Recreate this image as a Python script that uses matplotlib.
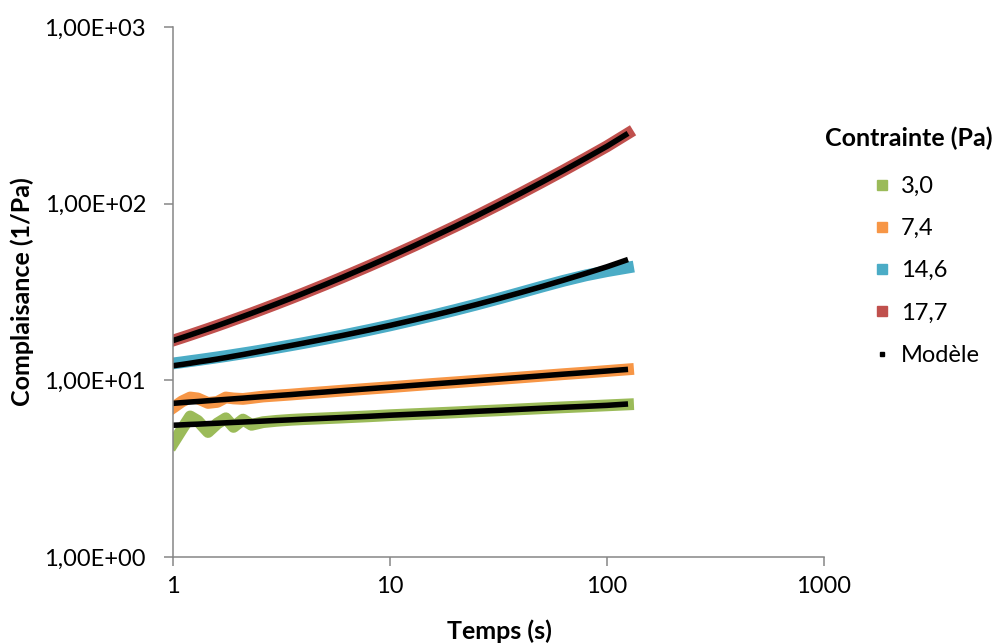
import matplotlib
matplotlib.use('Agg')
import matplotlib.pyplot as plt
from matplotlib.lines import Line2D

plt.rcParams['font.family'] = ['Lato', 'DejaVu Sans']

# temps (s)
temps = [1, 1.1, 1.2, 1.3, 1.45, 1.6, 1.75, 1.9, 2.1, 2.3, 2.6, 3, 3.5, 4, 5, 6, 8,
         10, 13, 16, 20, 25, 32, 40, 50, 63, 80, 100, 125]

# complaisance mesuree (1/Pa)
j_3_0 = [4.4, 5.3, 6.25, 5.9, 5.1, 5.7, 6.1, 5.45, 6.0, 5.6, 5.8, 5.9, 5.98, 6.03,
         6.10, 6.16, 6.26, 6.35, 6.44, 6.51, 6.59, 6.68, 6.77, 6.86, 6.95, 7.04,
         7.13, 7.22, 7.31]
j_7_4 = [7.0, 7.6, 8.0, 7.9, 7.45, 7.55, 8.0, 7.9, 7.85, 7.95, 8.1, 8.2, 8.31, 8.42,
         8.59, 8.74, 8.97, 9.15, 9.38, 9.56, 9.75, 9.95, 10.18, 10.39, 10.61, 10.84,
         11.07, 11.30, 11.54]
j_14_6 = [12.47, 12.66, 12.85, 13.02, 13.27, 13.50, 13.72, 13.94, 14.21, 14.46,
          14.83, 15.28, 15.80, 16.27, 17.14, 17.92, 19.28, 20.46, 22.03, 23.40,
          25.03, 26.85, 29.11, 31.40, 33.9, 36.6, 39.3, 41.5, 43.5]
j_17_7 = [16.8, 17.45, 18.08, 18.69, 19.56, 20.40, 21.21, 22.00, 23.00, 23.96,
          25.35, 27.10, 29.16, 31.12, 34.77, 38.17, 44.40, 50.1, 58.0, 65.4, 74.5,
          85.2, 99.3, 114.4, 132.2, 154.0, 181.1, 211.3, 250.0]

# modele
m_3_0 = [5.57, 5.60, 5.63, 5.65, 5.69, 5.72, 5.75, 5.78, 5.81, 5.84, 5.88, 5.93,
         5.98, 6.03, 6.10, 6.16, 6.26, 6.35, 6.44, 6.51, 6.59, 6.68, 6.77, 6.86,
         6.95, 7.04, 7.13, 7.22, 7.35]
m_7_4 = [7.41, 7.48, 7.54, 7.59, 7.67, 7.74, 7.80, 7.86, 7.93, 8.00, 8.09, 8.20,
         8.31, 8.42, 8.59, 8.74, 8.97, 9.15, 9.38, 9.56, 9.75, 9.95, 10.18, 10.39,
         10.61, 10.84, 11.07, 11.30, 11.54]
m_14_6 = [12.1, 12.3, 12.5, 12.7, 12.95, 13.2, 13.45, 13.7, 14.0, 14.3, 14.7, 15.2,
          15.75, 16.25, 17.14, 17.92, 19.28, 20.46, 22.03, 23.40, 25.03, 26.85,
          29.11, 31.40, 33.93, 36.89, 40.33, 43.95, 48.3]
m_17_7 = [16.8, 17.45, 18.08, 18.69, 19.56, 20.40, 21.21, 22.00, 23.00, 23.96,
          25.35, 27.10, 29.16, 31.12, 34.77, 38.17, 44.40, 50.1, 58.0, 65.4, 74.5,
          85.2, 99.3, 114.4, 132.2, 154.0, 181.1, 211.3, 250.0]

series = [('3,0', j_3_0, '#9BBB59'), ('7,4', j_7_4, '#F79646'),
          ('14,6', j_14_6, '#4BACC6'), ('17,7', j_17_7, '#C0504D')]
modeles = [m_3_0, m_7_4, m_14_6, m_17_7]

fig = plt.figure(figsize=(9.99, 6.43), dpi=100)
ax = fig.add_axes([0.1732, 0.1337, 0.6516, 0.8243])

for nom, y, c in series:
    ax.plot(temps, y, color=c, lw=8.5, solid_capstyle='projecting',
            solid_joinstyle='round')
for m in modeles:
    ax.plot(temps, m, color='black', lw=4.0, solid_capstyle='butt')

ax.set_xscale('log')
ax.set_yscale('log')
ax.set_xlim(1, 1000)
ax.set_ylim(1, 1000)
ax.set_xticks([1, 10, 100, 1000])
ax.set_xticklabels(['1', '10', '100', '1000'])
ax.set_yticks([1, 10, 100, 1000])
ax.set_yticklabels(['1,00E+00', '1,00E+01', '1,00E+02', '1,00E+03'])
ax.minorticks_off()
ax.tick_params(axis='both', length=6.5, width=1.1, color='#868686', labelsize=17)
ax.tick_params(axis='x', pad=7)
ax.tick_params(axis='y', pad=13)
for s in ['top', 'right']:
    ax.spines[s].set_visible(False)
for s in ['left', 'bottom']:
    ax.spines[s].set_color('#868686')
    ax.spines[s].set_linewidth(1.1)

fig.text(0.022, 0.546, 'Complaisance (1/Pa)', rotation=90, fontsize=18,
         fontweight='bold', ha='center', va='center')
fig.text(0.4995, 0.019, 'Temps (s)', fontsize=18, fontweight='bold',
         ha='center', va='center')

fig.text(0.826, 0.785, 'Contrainte (Pa)', fontsize=18, fontweight='bold',
         ha='left', va='center')
handles = [Line2D([], [], ls='none', marker='s', ms=7, color=c) for _, _, c in series]
handles.append(Line2D([], [], ls='none', marker='s', ms=2.5, color='black'))
labels = [nom for nom, _, _ in series] + ['Modèle']
fig.legend(handles, labels, loc='upper left', bbox_to_anchor=(0.864, 0.745),
           frameon=False, fontsize=17, labelspacing=0.9, handlelength=0.6,
           handletextpad=0.5, borderpad=0)

fig.savefig('out.png', dpi=100)
